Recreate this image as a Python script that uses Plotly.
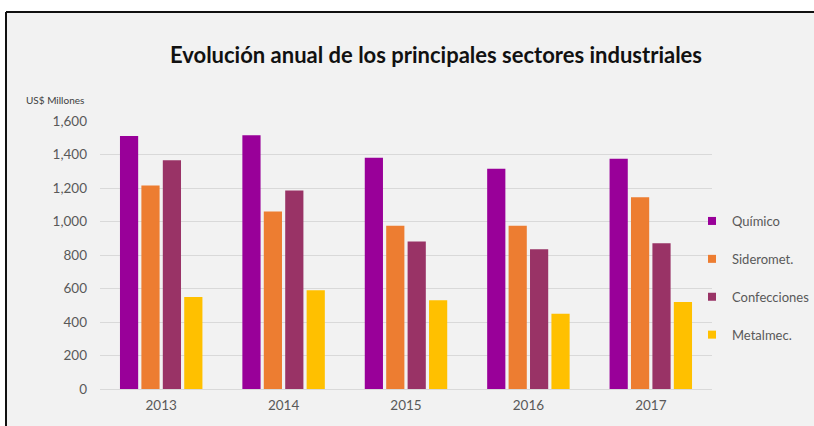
import plotly.graph_objects as go

years = ["2013", "2014", "2015", "2016", "2017"]
quimico = [1510, 1515, 1380, 1315, 1375]
siderometalurgico = [1215, 1060, 975, 975, 1145]
confecciones = [1365, 1185, 880, 835, 870]
metalmecanico = [550, 590, 530, 450, 520]

series = [
    ("Químico", quimico, "#990099"),
    ("Sideromet.", siderometalurgico, "#ED7D31"),
    ("Confecciones", confecciones, "#993366"),
    ("Metalmec.", metalmecanico, "#FFC000"),
]

FONT = "Lato, 'Open Sans', sans-serif"

fig = go.Figure()
for i, (name, vals, col) in enumerate(series):
    fig.add_trace(go.Bar(x=years, y=vals, name=name, marker_color=col,
                         marker_line_width=0, legendgroup=f"g{i}",
                         showlegend=False))
# legend entries with small square keys
for i, (name, vals, col) in enumerate(series):
    fig.add_trace(go.Scatter(x=[None], y=[None], mode="markers", name=name,
                             marker=dict(symbol="square", size=8, color=col),
                             legendgroup=f"g{i}", showlegend=True))

# plot area: l=100, r=102, t=121, b=37  (612 x 268)
def px_x(x):
    return (x - 100) / 612
def px_y(y):
    return 1 - (y - 121) / 268

fig.update_layout(
    width=814, height=426,
    margin=dict(l=100, r=102, t=121, b=37, autoexpand=False),
    paper_bgcolor="white",
    plot_bgcolor="rgba(0,0,0,0)",
    font=dict(family=FONT, color="#595959"),
    barmode="group", bargap=0.3, bargroupgap=0.15,
    title=dict(text="<b>Evolución anual de los principales sectores industriales</b>",
               x=436 / 814, xanchor="center", y=1 - 55 / 426, yanchor="middle",
               font=dict(size=22, color="#111111", family=FONT)),
    showlegend=True,
    legend=dict(x=px_x(692), xanchor="left", y=px_y(206), yanchor="top",
                traceorder="grouped", tracegroupgap=18,
                bgcolor="rgba(0,0,0,0)",
                font=dict(size=13, color="#595959", family=FONT)),
    shapes=[
        dict(type="rect", xref="paper", yref="paper",
             x0=px_x(6), x1=px_x(814), y0=px_y(426), y1=px_y(12),
             fillcolor="#F2F2F2", line=dict(width=0), layer="below"),
        dict(type="line", xref="paper", yref="paper",
             x0=px_x(6), x1=px_x(6), y0=px_y(426), y1=px_y(12),
             line=dict(color="#111111", width=2), layer="below"),
        dict(type="line", xref="paper", yref="paper",
             x0=px_x(6), x1=px_x(814), y0=px_y(12), y1=px_y(12),
             line=dict(color="#111111", width=2), layer="below"),
    ],
    annotations=[dict(text="US$ Millones", xref="paper", yref="paper",
                      x=px_x(24), xanchor="left", y=px_y(100), yanchor="middle",
                      showarrow=False, font=dict(size=10, color="#404040", family=FONT))],
)
fig.update_yaxes(range=[0, 1600], dtick=200, tickformat=",",
                 showgrid=True, gridcolor="#D9D9D9", gridwidth=1,
                 zeroline=True, zerolinecolor="#D9D9D9", zerolinewidth=1,
                 showline=False, ticks="", ticklabelstandoff=12,
                 tickfont=dict(size=13.5, color="#595959"))
fig.update_xaxes(showgrid=False, showline=False, ticks="",
                 ticklabelstandoff=6,
                 tickfont=dict(size=13.5, color="#595959"))

fig.write_html("out.html")
